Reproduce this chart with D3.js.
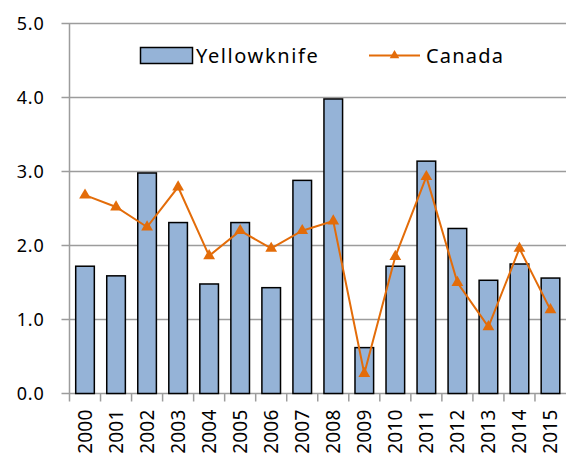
<!DOCTYPE html>
<html>
<head>
<meta charset="utf-8">
<script src="https://cdn.jsdelivr.net/npm/d3@7"></script>
<style>
  html, body { margin: 0; padding: 0; background: #fff; }
  text { font-family: "Noto Sans", "Open Sans", sans-serif; fill: #000; }
</style>
</head>
<body>
<svg id="chart" width="566" height="456"></svg>
<script>
const years = ["2000", "2001", "2002", "2003", "2004", "2005", "2006", "2007",
  "2008", "2009", "2010", "2011", "2012", "2013", "2014", "2015"];
const yellowknife = [1.72, 1.59, 2.98, 2.31, 1.48, 2.31, 1.43, 2.88,
  3.98, 0.62, 1.72, 3.14, 2.23, 1.53, 1.75, 1.56];
const canada = [2.68, 2.52, 2.25, 2.79, 1.86, 2.20, 1.96, 2.20,
  2.33, 0.27, 1.85, 2.93, 1.50, 0.90, 1.96, 1.13];
const yTicks = [0, 1, 2, 3, 4, 5];

const BAR_FILL = "#95B3D7";
const LINE_COLOR = "#E36C09";
const GRID = "#9c9c9c";

const margin = { left: 69.5, right: 0, top: 23.5, bottom: 62.5 };
const width = 566, height = 456;

const svg = d3.select("#chart");

const x = d3.scaleBand()
  .domain(years)
  .range([margin.left, width - margin.right])
  .paddingInner(0.4)
  .paddingOuter(0.2);

const xOuter = d3.scaleBand()
  .domain(years)
  .range([margin.left, width - margin.right]);

const y = d3.scaleLinear()
  .domain([0, 5])
  .range([height - margin.bottom, margin.top]);

// gridlines + y labels
const yAxis = svg.append("g");
yAxis.selectAll("line")
  .data(yTicks)
  .join("line")
  .attr("x1", margin.left - 8)
  .attr("x2", width)
  .attr("y1", (d) => y(d))
  .attr("y2", (d) => y(d))
  .attr("stroke", GRID)
  .attr("stroke-width", 1.5);

yAxis.selectAll("text")
  .data(yTicks)
  .join("text")
  .attr("x", margin.left - 25)
  .attr("y", (d) => y(d))
  .attr("dy", "0.36em")
  .attr("text-anchor", "end")
  .style("font-size", "18px")
  .style("letter-spacing", "0.8px")
  .text((d) => d.toFixed(1));

// vertical axis line
svg.append("line")
  .attr("x1", margin.left).attr("x2", margin.left)
  .attr("y1", y(5)).attr("y2", y(0) + 8)
  .attr("stroke", GRID)
  .attr("stroke-width", 1.5);

// x category tick marks
svg.append("g")
  .selectAll("line")
  .data(years.slice(1))
  .join("line")
  .attr("x1", (d) => xOuter(d))
  .attr("x2", (d) => xOuter(d))
  .attr("y1", y(0))
  .attr("y2", y(0) + 8)
  .attr("stroke", GRID)
  .attr("stroke-width", 1.5);

// bars
svg.append("g")
  .selectAll("rect")
  .data(years)
  .join("rect")
  .attr("x", (d) => x(d))
  .attr("width", x.bandwidth())
  .attr("y", (d, i) => y(yellowknife[i]))
  .attr("height", (d, i) => y(0) - y(yellowknife[i]))
  .attr("fill", BAR_FILL)
  .attr("stroke", "#000")
  .attr("stroke-width", 1.5);

// x labels (rotated)
svg.append("g")
  .selectAll("text")
  .data(years)
  .join("text")
  .attr("transform", (d) =>
    "translate(" + (xOuter(d) + xOuter.bandwidth() / 2 + 7) + "," + (y(0) + 16) + ") rotate(-90)")
  .attr("text-anchor", "end")
  .style("font-size", "19px")
  .style("letter-spacing", "0.2px")
  .text((d) => d);

// Canada line
const cx = (i) => xOuter(years[i]) + xOuter.bandwidth() / 2;
const line = d3.line()
  .x((d, i) => cx(i))
  .y((d) => y(d));

svg.append("path")
  .datum(canada)
  .attr("d", line)
  .attr("fill", "none")
  .attr("stroke", LINE_COLOR)
  .attr("stroke-width", 2);

const tri = d3.symbol().type(d3.symbolTriangle).size(60);
svg.append("g")
  .selectAll("path")
  .data(canada)
  .join("path")
  .attr("transform", (d, i) => "translate(" + cx(i) + "," + y(d) + ")")
  .attr("d", tri)
  .attr("fill", LINE_COLOR);

// legend
const legend = svg.append("g");
legend.append("rect")
  .attr("x", 140.5).attr("y", 47.5)
  .attr("width", 52).attr("height", 16)
  .attr("fill", BAR_FILL)
  .attr("stroke", "#000")
  .attr("stroke-width", 1.5);
legend.append("text")
  .attr("x", 196).attr("y", 63)
  .style("font-size", "20px")
  .style("letter-spacing", "1.6px")
  .text("Yellowknife");

legend.append("line")
  .attr("x1", 369).attr("x2", 420)
  .attr("y1", 55.5).attr("y2", 55.5)
  .attr("stroke", LINE_COLOR)
  .attr("stroke-width", 2);
legend.append("path")
  .attr("transform", "translate(394.5,55.5)")
  .attr("d", d3.symbol().type(d3.symbolTriangle).size(40))
  .attr("fill", LINE_COLOR);
legend.append("text")
  .attr("x", 426).attr("y", 63)
  .style("font-size", "20px")
  .style("letter-spacing", "1.2px")
  .text("Canada");
</script>
</body>
</html>
